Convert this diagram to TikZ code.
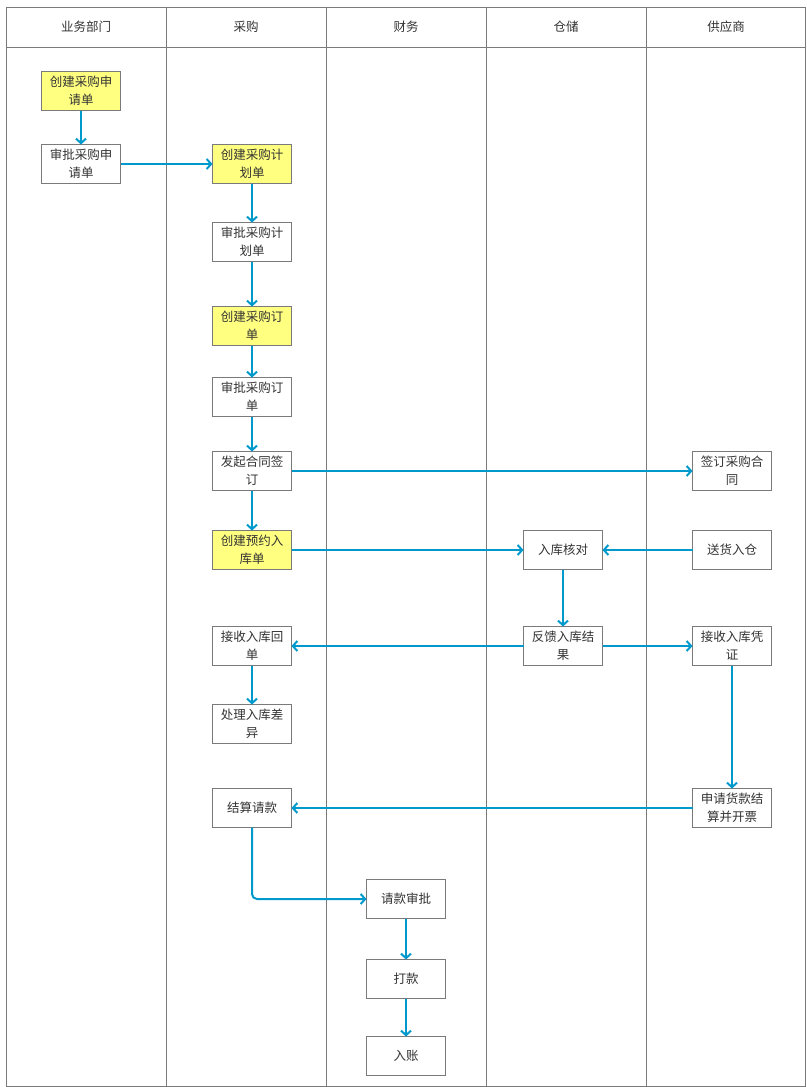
\documentclass[tikz,border=0pt]{standalone}
\usepackage{fontspec}
\setmainfont{Noto Sans CJK SC}
\usetikzlibrary{arrows.meta}
\definecolor{flow}{HTML}{0099CC}
\definecolor{frame}{HTML}{7A7A7A}
\definecolor{hl}{HTML}{FFFF80}
\definecolor{txt}{HTML}{333333}
\tikzset{
  box/.style={draw=frame, line width=1pt, fill=white, minimum width=79pt, minimum height=39pt, inner sep=0pt, outer sep=0pt, align=center, text=txt, font=\fontsize{12.5pt}{18pt}\selectfont},
  ybox/.style={box, fill=hl},
  hdr/.style={text=txt, font=\fontsize{12.5pt}{15pt}\selectfont},
  conn/.style={draw=flow, line width=2pt, -{Straight Barb[length=4.5pt,width=10pt]}},
  lane/.style={draw=frame, line width=1pt}
}
\begin{document}
\begin{tikzpicture}[x=1pt,y=-1pt]
\useasboundingbox (0,0) rectangle (806,1087);
% frame
\draw[lane] (6.5,7.5) rectangle (805.5,1086.5);
\draw[lane] (6.5,47.5) -- (805.5,47.5);
\foreach \xx in {166.5,326.5,486.5,646.5} \draw[lane] (\xx,7.5) -- (\xx,1086.5);
\node[hdr] (h1) at (86,27) {业务部门};
\node[hdr] (h2) at (246,27) {采购};
\node[hdr] (h3) at (406,27) {财务};
\node[hdr] (h4) at (566,27) {仓储};
\node[hdr] (h5) at (726,27) {供应商};
% nodes
\node[ybox] (a1) at (81,91) {创建采购申\\请单};
\node[box] (a2) at (81,164) {审批采购申\\请单};
\node[ybox] (b1) at (252,164) {创建采购计\\划单};
\node[box] (b2) at (252,242) {审批采购计\\划单};
\node[ybox] (b3) at (252,326) {创建采购订\\单};
\node[box] (b4) at (252,397) {审批采购订\\单};
\node[box] (b5) at (252,471) {发起合同签\\订};
\node[ybox] (b6) at (252,550) {创建预约入\\库单};
\node[box] (b7) at (252,646) {接收入库回\\单};
\node[box] (b8) at (252,724) {处理入库差\\异};
\node[box] (b9) at (252,808) {结算请款};
\node[box] (c1) at (406,899) {请款审批};
\node[box] (c2) at (406,979) {打款};
\node[box] (c3) at (406,1056) {入账};
\node[box] (d1) at (563,550) {入库核对};
\node[box] (d2) at (563,646) {反馈入库结\\果};
\node[box] (e1) at (732,471) {签订采购合\\同};
\node[box] (e2) at (732,550) {送货入仓};
\node[box] (e3) at (732,646) {接收入库凭\\证};
\node[box] (e4) at (732,808) {申请货款结\\算并开票};
% connectors
\draw[conn] (a1.south) -- (a2.north);
\draw[conn] (a2.east) -- (b1.west);
\draw[conn] (b1.south) -- (b2.north);
\draw[conn] (b2.south) -- (b3.north);
\draw[conn] (b3.south) -- (b4.north);
\draw[conn] (b4.south) -- (b5.north);
\draw[conn] (b5.south) -- (b6.north);
\draw[conn] (b5.east) -- (e1.west);
\draw[conn] (b6.east) -- (d1.west);
\draw[conn] (e2.west) -- (d1.east);
\draw[conn] (d1.south) -- (d2.north);
\draw[conn] (d2.west) -- (b7.east);
\draw[conn] (d2.east) -- (e3.west);
\draw[conn] (b7.south) -- (b8.north);
\draw[conn] (e3.south) -- (e4.north);
\draw[conn] (e4.west) -- (b9.east);
\draw[conn, rounded corners=5pt] (b9.south) |- (c1.west);
\draw[conn] (c1.south) -- (c2.north);
\draw[conn] (c2.south) -- (c3.north);
\end{tikzpicture}
\end{document}
